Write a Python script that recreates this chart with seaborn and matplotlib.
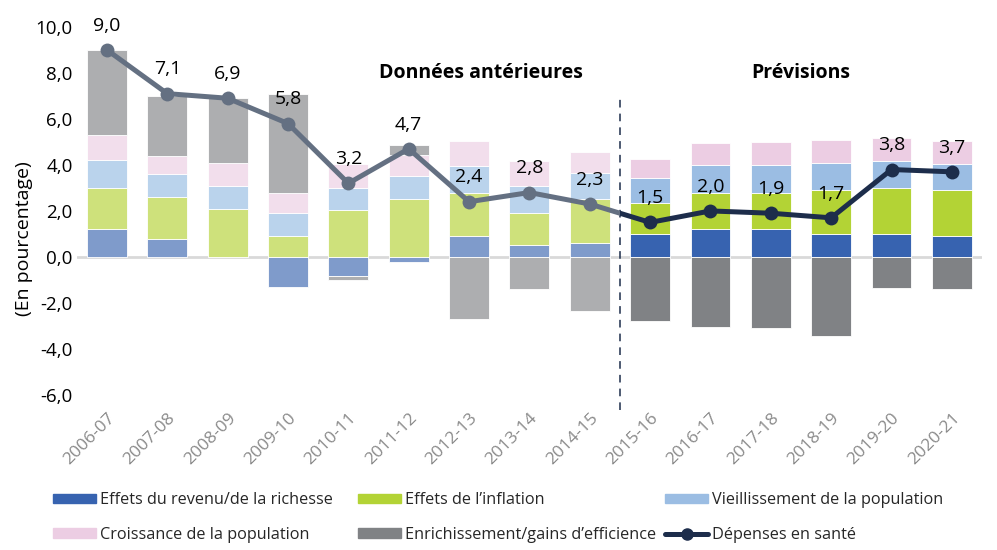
import numpy as np
import matplotlib
matplotlib.use("Agg")
import matplotlib.pyplot as plt
from matplotlib.patches import Rectangle, Patch
from matplotlib.lines import Line2D
import seaborn as sns
import pandas as pd

categories = ["2006-07", "2007-08", "2008-09", "2009-10", "2010-11", "2011-12",
              "2012-13", "2013-14", "2014-15", "2015-16", "2016-17", "2017-18",
              "2018-19", "2019-20", "2020-21"]
revenu = [1.2, 0.8, 0.0, -1.3, -0.85, -0.2, 0.9, 0.5, 0.6, 1.0, 1.2, 1.2, 1.0, 1.0, 0.9]
inflation = [1.8, 1.8, 2.1, 0.9, 2.05, 2.5, 1.9, 1.4, 1.9, 1.35, 1.6, 1.6, 1.9, 2.0, 2.0]
vieillissement = [1.2, 1.0, 1.0, 1.0, 0.95, 1.0, 1.15, 1.2, 1.15, 1.1, 1.2, 1.2, 1.2, 1.15, 1.15]
croissance = [1.1, 0.8, 1.0, 0.9, 1.05, 0.95, 1.1, 1.05, 0.9, 0.8, 0.95, 1.0, 1.0, 1.0, 1.0]
enrichissement = [3.7, 2.6, 2.8, 4.3, -0.15, 0.4, -2.7, -1.4, -2.35, -2.8, -3.05, -3.1, -3.45, -1.35, -1.4]
depenses = [9.0, 7.1, 6.9, 5.8, 3.2, 4.7, 2.4, 2.8, 2.3, 1.5, 2.0, 1.9, 1.7, 3.8, 3.7]
n_hist = 9  # number of historical years

series_names = ["Effets du revenu/de la richesse", "Effets de l\u2019inflation",
                "Vieillissement de la population", "Croissance de la population",
                "Enrichissement/gains d\u2019efficience"]
series_vals = [revenu, inflation, vieillissement, croissance, enrichissement]
colors_sat = ["#3763B0", "#B3D335", "#9BBDE3", "#ECCDE3", "#808285"]
colors_light = ["#7F9BCB", "#CEE17B", "#BAD3EC", "#F2DEEC", "#ADAEB0"]
line_hist = "#647082"
line_fore = "#1D2D4B"
line_label = "D\u00e9penses en sant\u00e9"

sns.set_theme(style="white")
plt.rcParams["font.family"] = ["Open Sans", "DejaVu Sans"]

fig = plt.figure(figsize=(9.97, 5.5), dpi=100)
ax = fig.add_axes([0.077, 0.282, 0.908, 0.669])

x = np.arange(len(categories))
pos_base = np.zeros(len(categories))
neg_base = np.zeros(len(categories))
width = 0.66
for vals, cs, cl in zip(series_vals, colors_sat, colors_light):
    v = np.array(vals, dtype=float)
    bottoms = np.where(v >= 0, pos_base, neg_base)
    cols = [cl if i < n_hist else cs for i in range(len(v))]
    ax.bar(x, v, width=width, bottom=bottoms, color=cols, edgecolor="white",
           linewidth=0.6, zorder=2)
    pos_base = pos_base + np.where(v >= 0, v, 0)
    neg_base = neg_base + np.where(v < 0, v, 0)

ax.axhline(0, color="#D9D9D9", lw=2, zorder=1.5)

ax.set_xlim(-0.5, len(categories) - 0.5)
ax.set_ylim(-6, 10)

df = pd.DataFrame({"x": x, "val": depenses})
for col, clip in [(line_hist, (-1, 8.5)), (line_fore, (8.5, 16))]:
    n_before = len(ax.lines)
    sns.lineplot(data=df, x="x", y="val", color=col, lw=3.6, marker="o",
                 markersize=10, markeredgewidth=0, ax=ax, zorder=4)
    rect = Rectangle((clip[0], -20), clip[1] - clip[0], 40, transform=ax.transData)
    for ln in ax.lines[n_before:]:
        ln.set_clip_path(rect)

for xi, v in zip(x, depenses):
    ax.annotate(f"{v:.1f}".replace(".", ","), (xi, v), xytext=(0, 17.5),
                textcoords="offset points", ha="center", va="center",
                fontsize=14, color="black", zorder=5)

ax.vlines(n_hist - 0.5, -6.65, 6.96, colors=line_fore, linestyles=(0, (5, 4)),
          lw=1.1, clip_on=False, zorder=3)

ax.text(6.2, 8.0, "Donn\u00e9es ant\u00e9rieures", ha="center", va="center",
        fontsize=14, fontweight="bold", color="black")
ax.text(11.5, 8.0, "Pr\u00e9visions", ha="center", va="center",
        fontsize=14, fontweight="bold", color="black")

yt = np.arange(-6, 11, 2)
ax.set_yticks(yt)
ax.set_yticklabels([f"{t:.1f}".replace(".", ",") for t in yt], fontsize=13.5,
                   color="black")
ax.set_xticks(x)
ax.set_xticklabels(categories, rotation=45, ha="right", rotation_mode="anchor",
                   fontsize=12.5, color="#8A8A8A")
ax.tick_params(axis="y", length=0, pad=3)
ax.tick_params(axis="x", length=0, pad=11)
ax.set_xlabel("")
ax.set_ylabel("(En pourcentage)", fontsize=14, color="black")
ax.yaxis.set_label_coords(-0.0486, 0.424)
for s in ax.spines.values():
    s.set_visible(False)

handles = [Patch(color=c) for c in colors_sat]
handles.append(Line2D([0], [0], color=line_fore, lw=3.6, marker="o", markersize=8))
labels = series_names + [line_label]
col_items = [[0, 3], [1, 4], [2, 5]]
col_x = [0.053, 0.359, 0.667]
for cx, items in zip(col_x, col_items):
    fig.legend([handles[i] for i in items], [labels[i] for i in items],
               loc="upper left", bbox_to_anchor=(cx, 0.105), frameon=False,
               fontsize=11.7, handlelength=2.65, handleheight=0.55, handletextpad=0.25,
               labelspacing=1.15, borderpad=0, borderaxespad=0)

fig.savefig("out.png", dpi=100)
